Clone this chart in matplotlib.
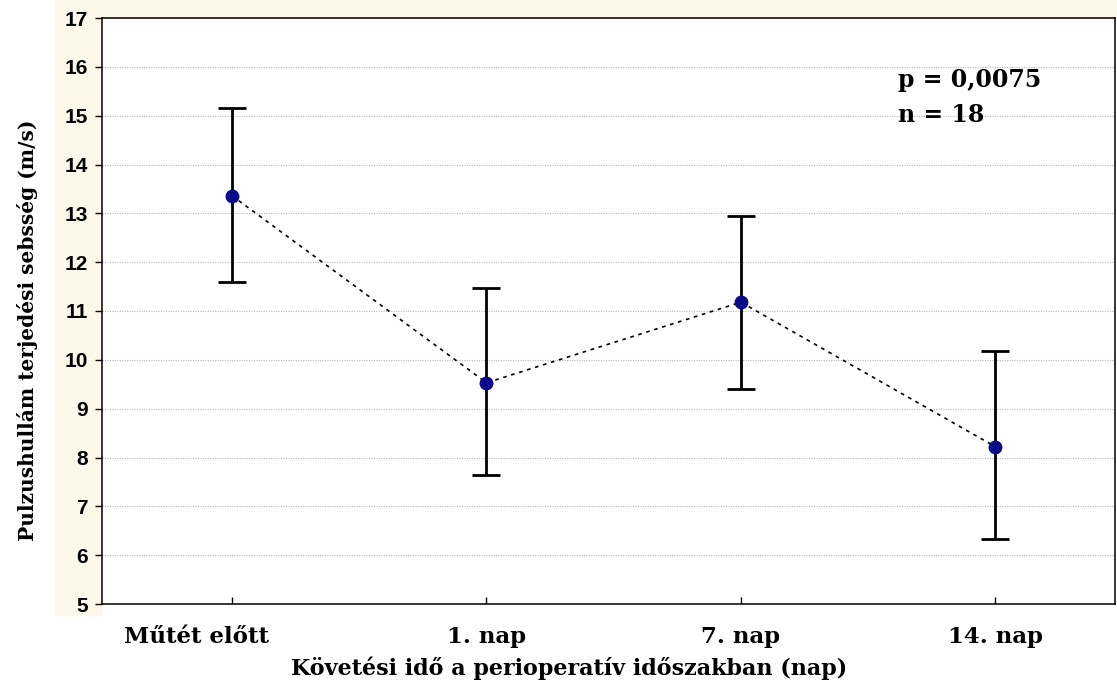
import numpy as np
import matplotlib.pyplot as plt
import matplotlib.transforms as mtransforms
from matplotlib.patches import Rectangle

plt.rcParams.update({
    "font.family": "DejaVu Sans",
    "axes.linewidth": 1.1,
})

categories = ["Műtét előtt", "1. nap", "7. nap", "14. nap"]
means = [13.36, 9.53, 11.18, 8.22]
upper = [15.16, 11.47, 12.95, 10.19]
lower = [11.59, 7.64, 9.40, 6.33]
annotation = ["p = 0,0075", "n = 18"]

fig = plt.figure(figsize=(11.17, 6.90), dpi=100)
fig.patch.set_facecolor("white")

# faint cream band behind the tick labels, as in the scanned original
cream = "#fdf8ea"
fig.patches.append(Rectangle((55 / 1117, 1 - 615 / 690), 47 / 1117, 615 / 690,
                             transform=fig.transFigure, color=cream, zorder=-5))
fig.patches.append(Rectangle((55 / 1117, 1 - 18 / 690), 1 - 55 / 1117, 18 / 690,
                             transform=fig.transFigure, color=cream, zorder=-5))

ax = fig.add_axes([102 / 1117, 1 - 604 / 690, (1115 - 102) / 1117, (604 - 18) / 690])
ax.set_facecolor("white")

x = np.arange(len(categories))
m = np.array(means)
yerr = [m - np.array(lower), np.array(upper) - m]

ax.plot(x, m, color="black", lw=1.2, ls=(0, (2.2, 2.8)), zorder=2)
ax.errorbar(x, m, yerr=yerr, fmt="none", ecolor="black", elinewidth=2.0,
            capsize=10, capthick=2.0, zorder=3)
ax.plot(x, m, "o", color="#0a0a8a", ms=9, zorder=4)

ax.set_xlim(-0.511, 3.47)
ax.set_ylim(5, 17)
ax.set_yticks(range(5, 18))
ax.set_yticklabels([str(v) for v in range(5, 18)], family="Liberation Sans",
                   fontweight="bold", fontsize=15)
ax.set_xticks(x)
ax.set_xticklabels(categories, family="DejaVu Serif", fontweight="bold", fontsize=16.5)
ax.tick_params(axis="y", direction="out", length=5, width=1, pad=5)
ax.tick_params(axis="x", direction="in", length=5, width=1, pad=16)
# the first category label sits left of its tick in the original
first = ax.get_xticklabels()[0]
first.set_transform(first.get_transform()
                    + mtransforms.ScaledTranslation(-0.36, 0, fig.dpi_scale_trans))
ax.grid(axis="y", color="#b8b8b8", ls=(0, (1, 1.2)), lw=0.8)
ax.set_axisbelow(True)

ax.set_xlabel("Követési idő a perioperatív időszakban (nap)", family="DejaVu Serif",
              fontweight="bold", fontsize=16)
ax.xaxis.set_label_coords(0.461, -0.109)
ax.xaxis.label.set_va("center")
ax.set_ylabel("Pulzushullám terjedési sebsség (m/s)", family="DejaVu Serif",
              fontweight="bold", fontsize=14.5)
ax.yaxis.set_label_coords(-0.063, 0.4676)

ax.text(0.786, 0.882, annotation[0], transform=ax.transAxes, family="DejaVu Serif",
        fontweight="bold", fontsize=17, va="baseline")
ax.text(0.786, 0.8225, annotation[1], transform=ax.transAxes, family="DejaVu Serif",
        fontweight="bold", fontsize=17, va="baseline")

fig.savefig("out.png", dpi=100)
